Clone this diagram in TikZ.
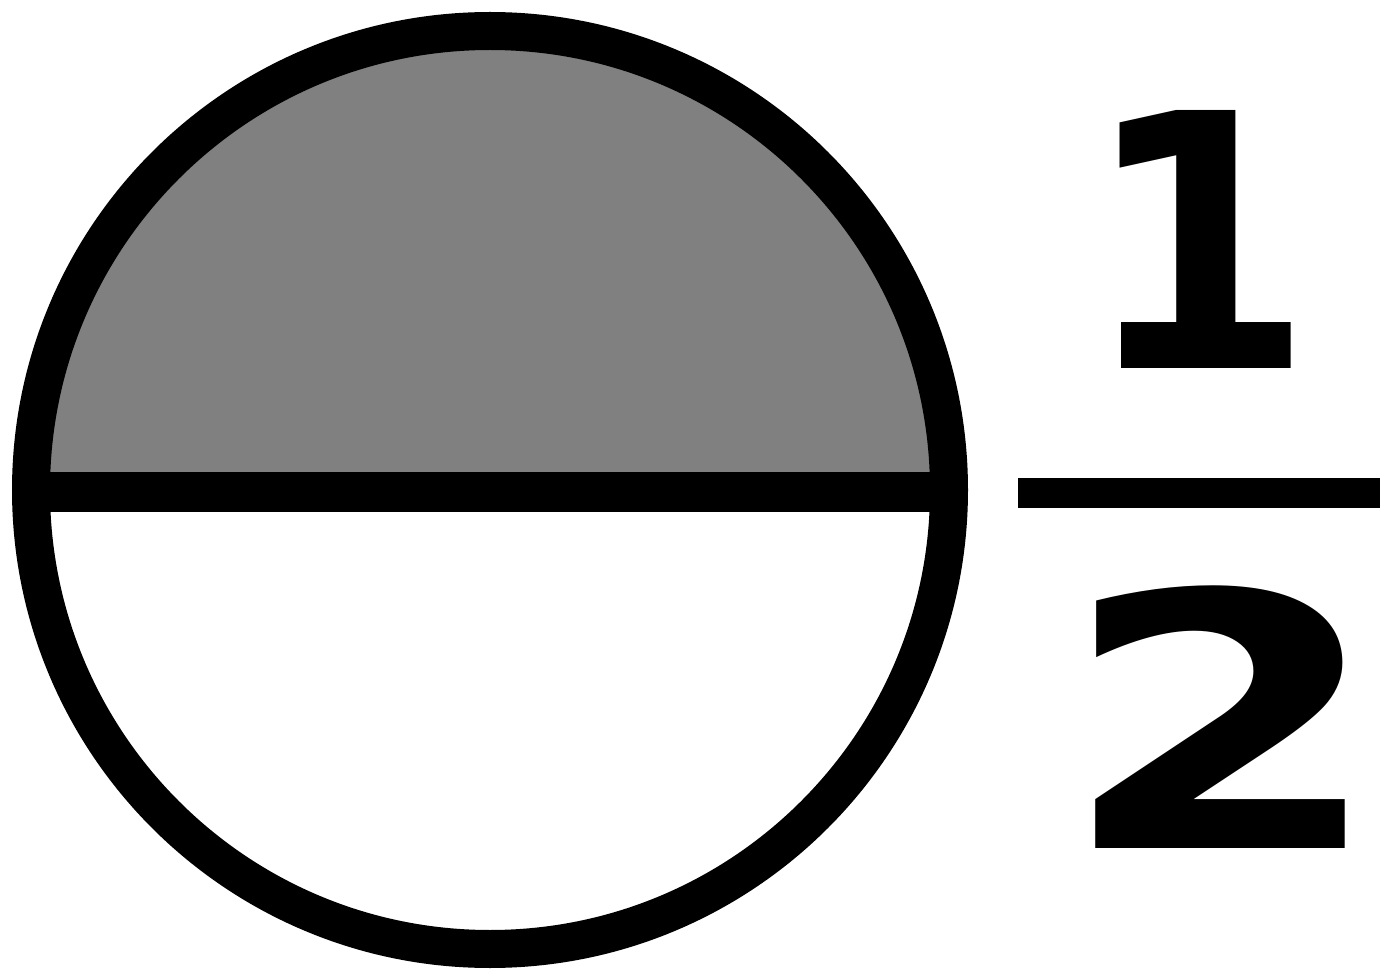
\documentclass[tikz,border=0pt]{standalone}
\usepackage{fontspec}
\newfontfamily\digitfont{DejaVu Sans}[BoldFont={DejaVu Sans Bold}]
\tikzset{
  ring/.style={line width=38pt, draw=black},
  halfline/.style={line width=40pt, draw=black},
  fracbar/.style={line width=30pt, draw=black},
  digit/.style={inner sep=0pt, font=\digitfont\bfseries\fontsize{354}{354}\selectfont}
}
\begin{document}
\begin{tikzpicture}[x=1pt,y=-1pt]
\useasboundingbox (0,0) rectangle (1385,973);
\coordinate (c) at (490,490);
\begin{scope}
  \clip (c) circle (459pt);
  \fill[fill={rgb,255:red,128;green,128;blue,128}] (0,0) rectangle (980,492);
\end{scope}
\draw[ring] (c) circle (459pt);
\coordinate (hl) at (14,492);
\coordinate (hr) at (966,492);
\draw[halfline] (hl) -- (hr);
\coordinate (fl) at (1018,493);
\coordinate (fr) at (1380,493);
\draw[fracbar] (fl) -- (fr);
\node[digit, xscale=0.94] (one) at (1198,239) {1};
\node[digit, xscale=1.33] (two) at (1222,717) {2};
\end{tikzpicture}
\end{document}
